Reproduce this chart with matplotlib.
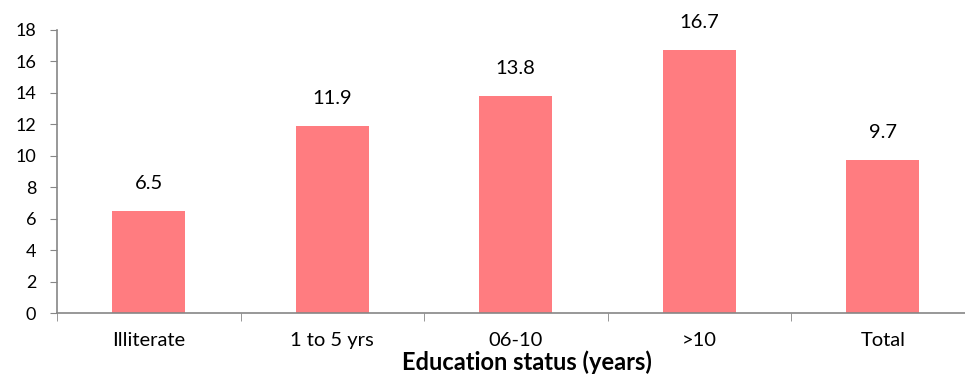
import matplotlib
matplotlib.use("Agg")
import matplotlib.pyplot as plt
import numpy as np

categories = ["Illiterate", "1 to 5 yrs", "06-10", ">10", "Total"]
values = [6.5, 11.9, 13.8, 16.7, 9.7]
y_ticks = [0, 2, 4, 6, 8, 10, 12, 14, 16, 18]

BAR_COLOR = "#FF7C80"
AXIS_COLOR = "#868686"

plt.rcParams["font.family"] = ["Lato", "DejaVu Sans"]

fig = plt.figure(figsize=(9.65, 3.78), dpi=100)
ax = fig.add_axes([57 / 965, 65 / 378, 917.5 / 965, 283 / 378])

x = np.arange(len(categories))
ax.bar(x, values, width=0.4, color=BAR_COLOR)

for xi, v in zip(x, values):
    ax.annotate(f"{v}", (xi, v), xytext=(0, 20), textcoords="offset points",
                ha="center", va="center", fontsize=14.5)

ax.set_xlim(-0.5, len(categories) - 0.5)
ax.set_ylim(0, 18)
ax.set_yticks(y_ticks)
ax.set_xticks(x)
ax.set_xticklabels(categories, fontsize=14.5)
ax.set_xticks(np.arange(len(categories) + 1) - 0.5, minor=True)

ax.tick_params(axis="y", labelsize=13, length=5, color=AXIS_COLOR, pad=10)
ax.tick_params(axis="x", which="major", length=0, pad=14)
ax.tick_params(axis="x", which="minor", length=6, color=AXIS_COLOR)

for side in ["top", "right"]:
    ax.spines[side].set_visible(False)
for side in ["left", "bottom"]:
    ax.spines[side].set_color(AXIS_COLOR)
    ax.spines[side].set_linewidth(1.2)

fig.text(527 / 965, 16 / 378, "Education status (years)", ha="center", va="center",
         fontsize=17, fontweight="bold")

fig.savefig("out.png", dpi=100)
